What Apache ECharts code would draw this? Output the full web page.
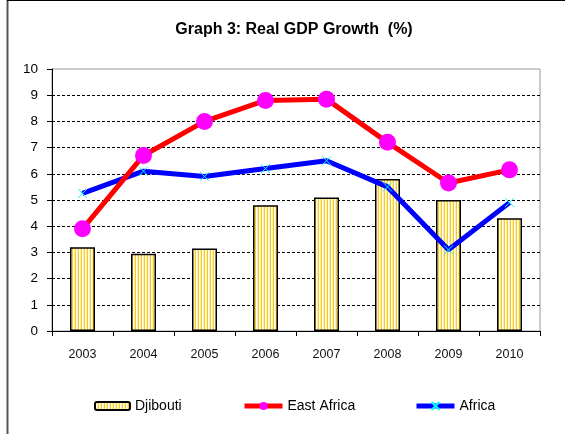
<!DOCTYPE html>
<html>
<head>
<meta charset="utf-8">
<script src="https://cdn.jsdelivr.net/npm/echarts@6/dist/echarts.min.js"></script>
<style>
  html, body { margin: 0; padding: 0; background: #fff; }
  #chart { width: 565px; height: 434px; }
</style>
</head>
<body>
<div id="chart"></div>
<script>
    // data
    var years = ['2003', '2004', '2005', '2006', '2007', '2008', '2009', '2010']
    var djibouti = [3.2, 2.95, 3.15, 4.8, 5.1, 5.8, 5.0, 4.3]
    var eastAfrica = [3.9, 6.7, 8.0, 8.8, 8.85, 7.2, 5.65, 6.15]
    var africa = [5.25, 6.1, 5.9, 6.2, 6.5, 5.5, 3.1, 4.9]

    // vertical yellow stripes for the bars
    var stripe = document.createElement('canvas')
    stripe.width = 3
    stripe.height = 4
    var ctx = stripe.getContext('2d')
    ctx.fillStyle = '#ffffff'
    ctx.fillRect(0, 0, 3, 4)
    ctx.fillStyle = '#f7cc1a'
    ctx.fillRect(0, 0, 1, 4)
    ctx.fillStyle = '#fdeeb0'
    ctx.fillRect(2, 0, 1, 4)

    var font = 'Liberation Sans, Arial, sans-serif'
    var chart = echarts.init(document.getElementById('chart'), null, { renderer: 'canvas' })

    var legendText = { fontFamily: font, fontSize: 14, color: '#000' }

    chart.setOption({
        animation: false,
        backgroundColor: '#fff',
        title: {
            text: 'Graph 3: Real GDP Growth  (%)',
            left: 289,
            textAlign: 'center',
            top: 17,
            textStyle: { fontFamily: font, fontSize: 16, fontWeight: 'bold', color: '#000' }
        },
        grid: {
            left: 52, right: 25, top: 69, bottom: 103,
            show: true, borderColor: '#999', borderWidth: 1
        },
        legend: [
            { data: ['Djibouti'], left: 89, top: 394, itemWidth: 35, itemHeight: 8, itemGap: 3, textStyle: legendText },
            { data: ['East Africa'], left: 237, top: 394, itemWidth: 38, itemHeight: 10, textStyle: legendText, lineStyle: { width: 5 } },
            { data: ['Africa'], left: 409, top: 394, itemWidth: 38, itemHeight: 10, textStyle: legendText, lineStyle: { width: 5 } }
        ],
        xAxis: {
            type: 'category',
            data: years,
            axisLine: { lineStyle: { color: '#000', width: 1 } },
            axisTick: { show: true, length: 5, lineStyle: { color: '#000' } },
            axisLabel: { fontFamily: font, fontSize: 12.5, color: '#111', margin: 17 }
        },
        yAxis: {
            type: 'value',
            min: 0, max: 10, interval: 1,
            axisLine: { show: true, lineStyle: { color: '#000', width: 1 } },
            axisTick: { show: true, length: 5, lineStyle: { color: '#000' } },
            axisLabel: { fontFamily: font, fontSize: 13.5, color: '#000', margin: 14 },
            splitLine: { show: true, showMaxLine: false, showMinLine: false, lineStyle: { color: '#000', width: 1, type: [3, 2] } }
        },
        series: [
            {
                name: 'Djibouti',
                type: 'bar',
                data: djibouti,
                barWidth: 25,
                itemStyle: {
                    color: { image: stripe, repeat: 'repeat' },
                    borderColor: '#000', borderWidth: 1.5
                },
                z: 1
            },
            {
                name: 'East Africa',
                type: 'line',
                data: eastAfrica,
                lineStyle: { color: '#ff0000', width: 5 },
                itemStyle: { color: '#ff00ff' },
                symbol: 'circle',
                symbolSize: 17,
                z: 3
            },
            {
                name: 'Africa',
                type: 'line',
                data: africa,
                lineStyle: { color: '#0000ff', width: 5 },
                itemStyle: { color: '#00ffff', borderColor: '#00ffff', borderWidth: 1 },
                symbol: 'path://M0,0 L10,10 M10,0 L0,10',
                symbolSize: 9,
                z: 2
            }
        ],
        graphic: [
            { type: 'line', shape: { x1: 7.5, y1: 0, x2: 7.5, y2: 434 }, style: { stroke: '#555', lineWidth: 2 } },
            { type: 'line', shape: { x1: 7, y1: 0.5, x2: 565, y2: 0.5 }, style: { stroke: '#000', lineWidth: 1 } }
        ]
    })
</script>
</body>
</html>
